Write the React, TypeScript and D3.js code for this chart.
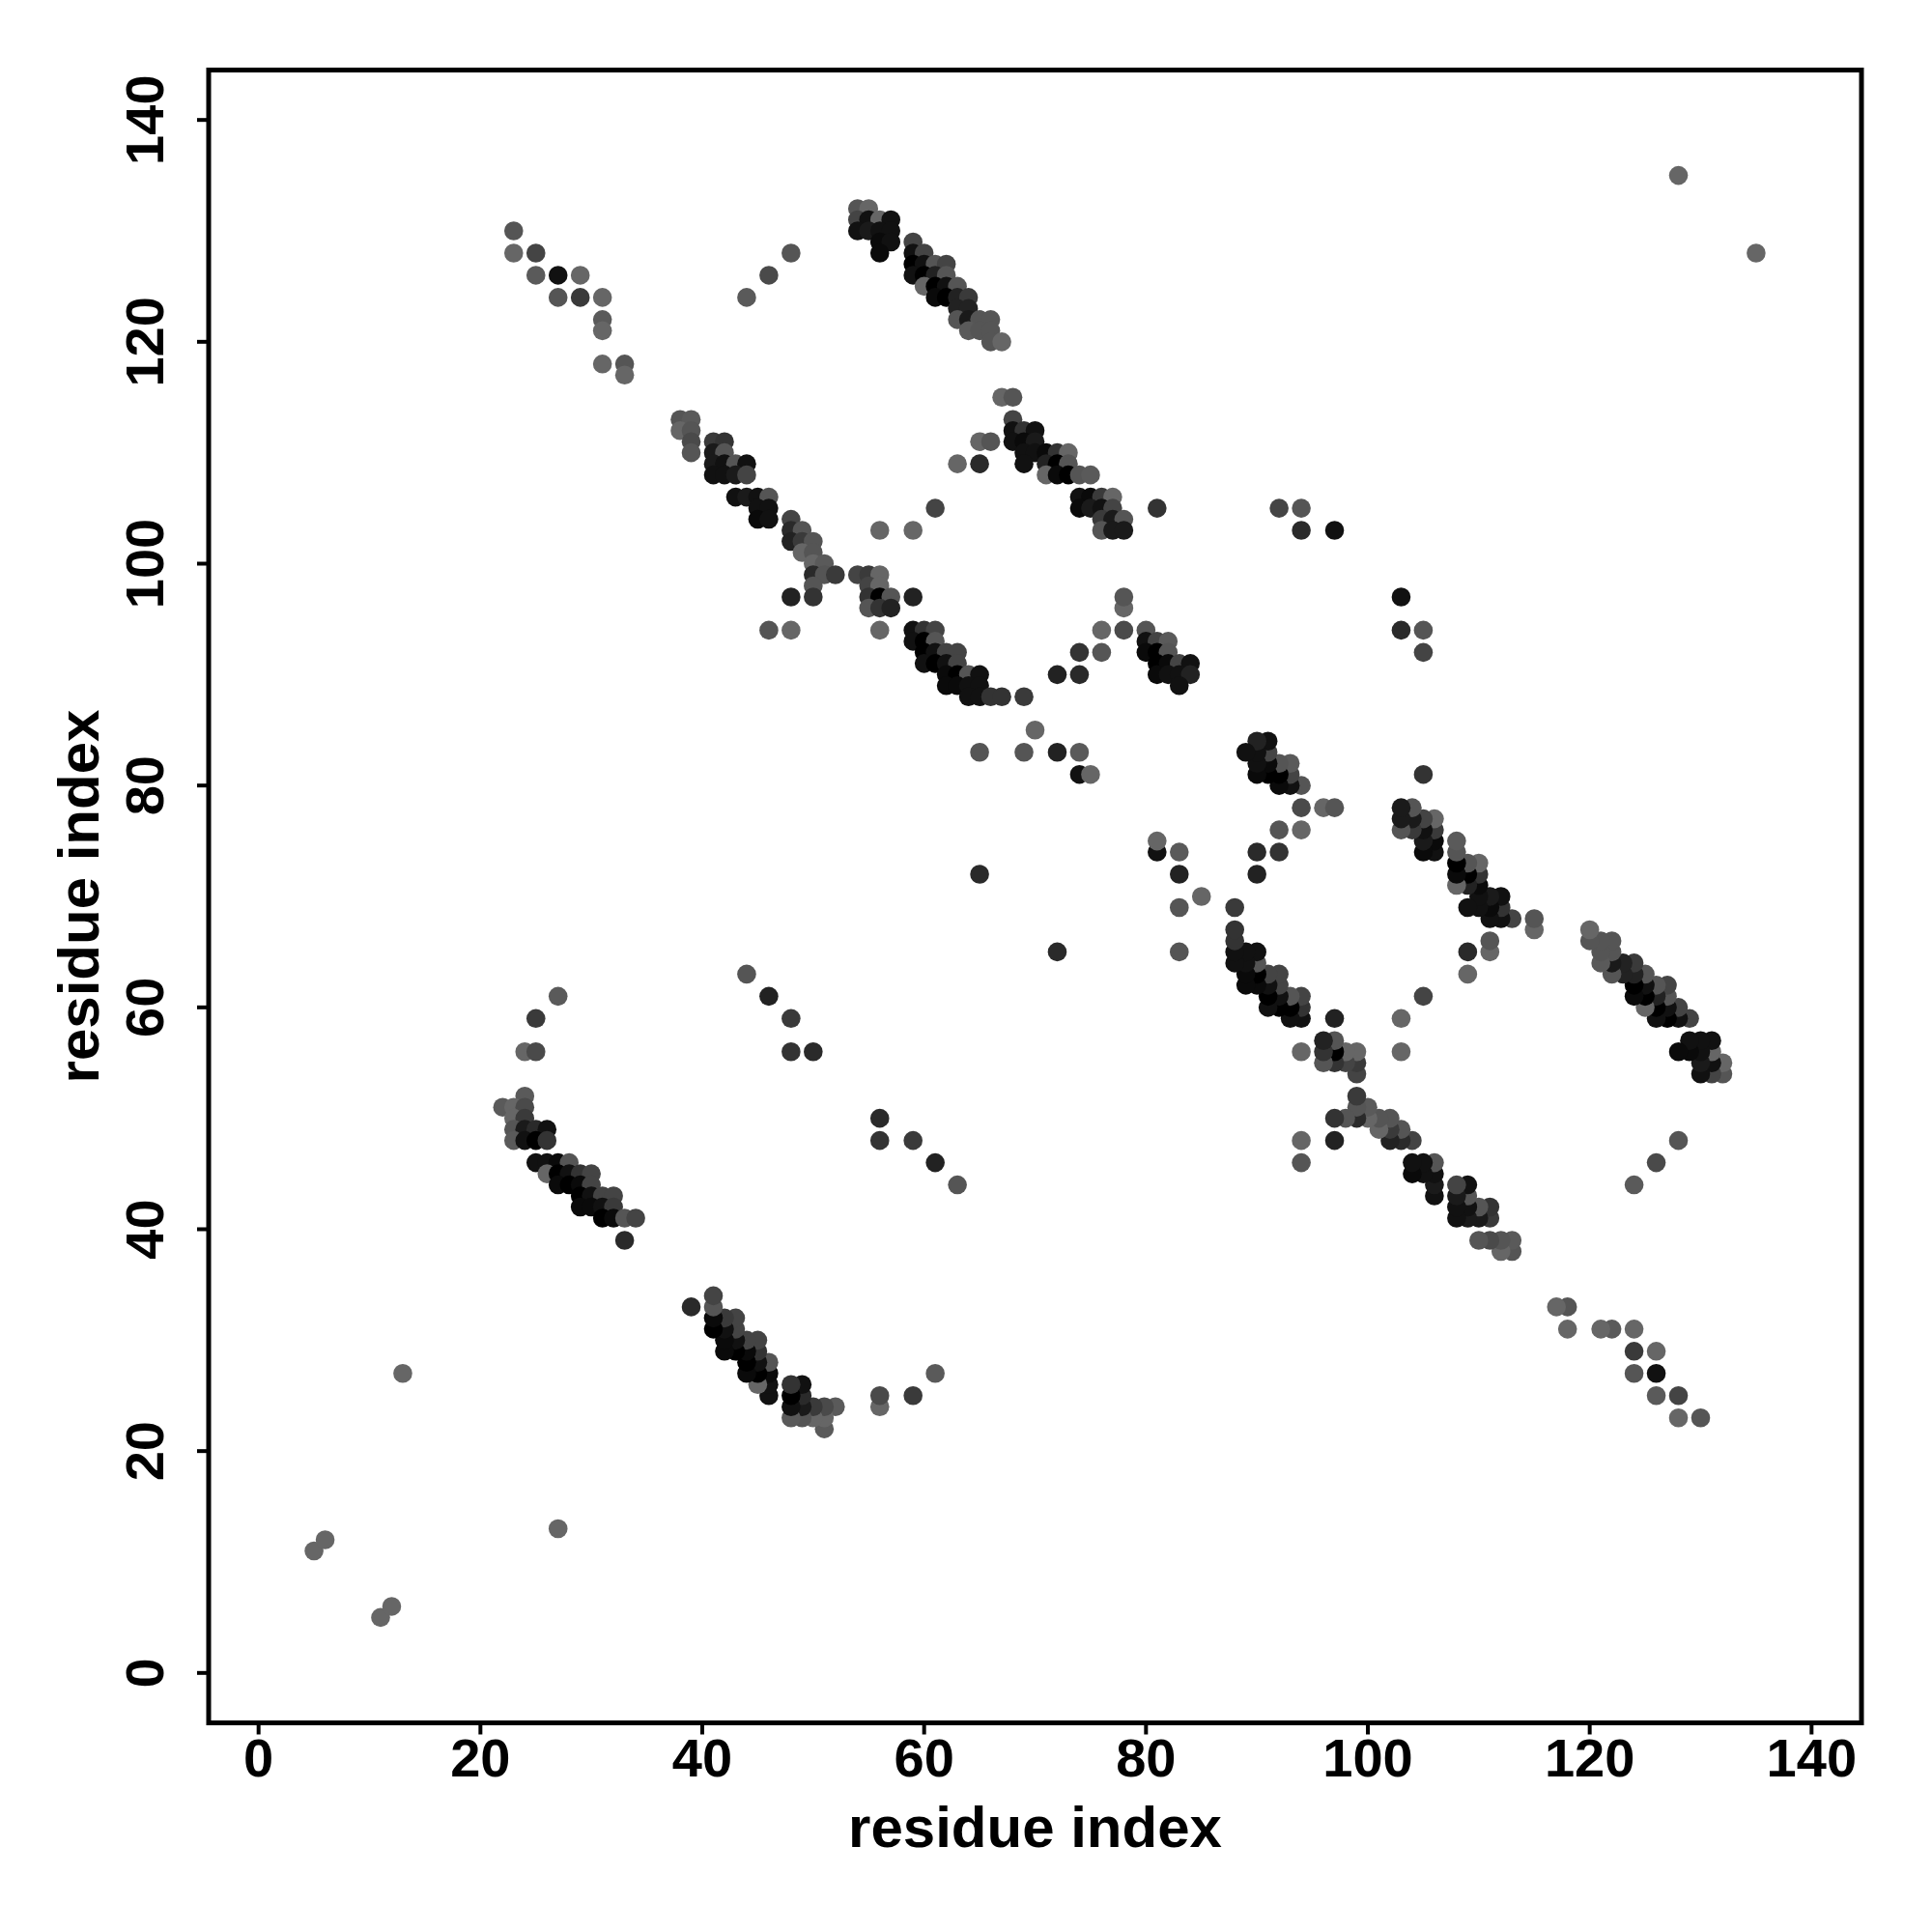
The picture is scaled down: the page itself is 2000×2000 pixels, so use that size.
import React from "react";
import * as d3 from "d3";

// Contact pairs [i, j, grey level 0..102], stored once (j > i); the map is symmetric.
const sparse: number[][] = [
  [5, 11, 102], [6, 12, 102], [13, 27, 102], [128, 135, 102], [65, 72, 42],
];
const sheetA: number[][] = [
  [24, 52, 90], [22, 51, 90], [23, 51, 102], [24, 51, 74],
  [23, 50, 102], [24, 50, 58],
  [23, 49, 85], [24, 49, 26], [25, 49, 42], [26, 49, 17],
  [23, 48, 90], [24, 48, 17], [25, 48, 0], [26, 48, 51],
  [25, 46, 17], [26, 46, 17], [27, 46, 10], [28, 46, 85],
  [26, 45, 102], [27, 45, 0], [28, 45, 17], [29, 45, 51], [30, 45, 68],
  [27, 44, 10], [28, 44, 0], [29, 44, 10], [30, 44, 68],
  [29, 43, 0], [30, 43, 17], [31, 43, 68], [32, 43, 68],
  [29, 42, 10], [30, 42, 10], [31, 42, 17], [32, 42, 58],
  [31, 41, 0], [32, 41, 10], [33, 41, 85], [34, 41, 68],
  [33, 39, 42],
  [27, 61, 90], [25, 59, 58], [24, 56, 102], [25, 56, 74],
  [44, 63, 85], [46, 61, 34], [48, 59, 58], [48, 56, 51], [50, 56, 42],
];
const sheetB: number[][] = [
  [23, 130, 85], [23, 128, 102], [25, 128, 68], [25, 126, 90], [27, 126, 17], [29, 126, 102],
  [27, 124, 85], [29, 124, 58], [31, 124, 102], [31, 122, 90], [31, 121, 102],
  [31, 118, 102], [33, 118, 85], [33, 117, 102],
  [48, 128, 85], [46, 126, 74], [44, 124, 90],
];
const sheetC: number[][] = [
  [54, 132, 85], [55, 132, 102],
  [54, 131, 68], [55, 131, 17], [56, 131, 102], [57, 131, 17],
  [54, 130, 17], [55, 130, 26], [56, 130, 17], [57, 130, 17],
  [56, 129, 10], [57, 129, 17], [56, 128, 10],
  [59, 129, 68],
  [59, 128, 17], [60, 128, 68],
  [59, 127, 0], [60, 127, 17], [61, 127, 85], [62, 127, 68],
  [59, 126, 17], [60, 126, 0], [61, 126, 34], [62, 126, 85],
  [60, 125, 102], [61, 125, 0], [62, 125, 17], [63, 125, 85],
  [61, 124, 10], [62, 124, 0], [63, 124, 34], [64, 124, 58],
  [63, 123, 34], [64, 123, 34],
  [63, 122, 85], [64, 122, 26], [65, 122, 85], [66, 122, 85],
  [64, 121, 90], [65, 121, 85], [66, 121, 85],
  [66, 120, 85], [67, 120, 102],
];
const sheetD: number[][] = [
  [38, 113, 85], [39, 113, 90],
  [38, 112, 102], [39, 112, 85],
  [39, 111, 74], [39, 110, 85],
  [41, 111, 58], [42, 111, 51],
  [41, 110, 26], [42, 110, 85],
  [41, 109, 26], [42, 109, 17], [43, 109, 85], [44, 109, 17],
  [41, 108, 17], [42, 108, 17], [43, 108, 26], [44, 108, 68],
  [43, 106, 17], [44, 106, 26], [45, 106, 17], [46, 106, 85],
  [45, 105, 17], [46, 105, 17],
  [45, 104, 10], [46, 104, 17],
  [48, 104, 68],
  [48, 103, 42], [49, 103, 85],
  [48, 102, 34], [49, 102, 58], [50, 102, 85],
  [49, 101, 102], [50, 101, 85],
  [50, 100, 102], [51, 100, 90],
  [50, 99, 42], [51, 99, 85], [52, 99, 58],
  [50, 98, 85],
  [48, 97, 34], [50, 97, 51],
  [46, 94, 85], [48, 94, 102],
];
const sheetE: number[][] = [
  [54, 99, 68], [55, 99, 58], [56, 99, 102],
  [55, 98, 68], [56, 98, 102],
  [55, 97, 51], [56, 97, 0], [57, 97, 85],
  [59, 97, 34],
  [55, 96, 85], [56, 96, 51], [57, 96, 34],
  [56, 94, 102],
  [59, 94, 17], [60, 94, 51], [61, 94, 68],
  [59, 93, 17], [60, 93, 0], [61, 93, 85],
  [60, 92, 0], [61, 92, 17], [62, 92, 68], [63, 92, 68],
  [60, 91, 17], [61, 91, 0], [62, 91, 17], [63, 91, 68],
  [62, 90, 10], [63, 90, 0], [64, 90, 85], [65, 90, 17],
  [62, 89, 10], [63, 89, 10], [64, 89, 17], [65, 89, 17],
  [64, 88, 17], [65, 88, 17], [66, 88, 51], [67, 88, 51],
  [69, 88, 58], [70, 85, 102],
  [65, 83, 85], [69, 83, 85], [72, 83, 34], [74, 83, 90],
  [74, 81, 17], [75, 81, 102],
  [72, 90, 34], [74, 90, 42], [74, 92, 51], [76, 92, 85],
  [76, 94, 102], [78, 94, 74], [80, 94, 85], [78, 96, 102], [78, 97, 85],
];
const sheetF: number[][] = [
  [67, 115, 102], [68, 115, 85],
  [68, 113, 68],
  [68, 112, 17], [69, 112, 51], [70, 112, 17],
  [68, 111, 17], [69, 111, 10], [70, 111, 26],
  [65, 111, 102], [66, 111, 85],
  [69, 110, 17], [70, 110, 17], [71, 110, 10], [72, 110, 51], [73, 110, 102],
  [63, 109, 102], [65, 109, 42],
  [69, 109, 17], [71, 109, 34], [72, 109, 0], [73, 109, 85],
  [71, 108, 102], [72, 108, 10], [73, 108, 0], [74, 108, 85], [75, 108, 90],
  [74, 106, 17], [75, 106, 10], [76, 106, 58], [77, 106, 102],
  [74, 105, 10], [75, 105, 26], [76, 105, 17], [77, 105, 68],
  [76, 104, 58], [77, 104, 26], [78, 104, 85],
  [76, 103, 85], [77, 103, 26], [78, 103, 26],
  [81, 105, 51], [61, 105, 68], [56, 103, 102], [59, 103, 102],
];
const sheetG: number[][] = [
  [80, 93, 17], [81, 93, 68], [82, 93, 90],
  [80, 92, 10], [81, 92, 0], [82, 92, 85],
  [81, 91, 0], [82, 91, 10], [83, 91, 68], [84, 91, 17],
  [81, 90, 10], [82, 90, 17], [83, 90, 17], [84, 90, 34],
  [83, 89, 17],
  [92, 105, 68], [94, 105, 85], [94, 103, 42], [97, 103, 17],
];

const tickValues = [0, 20, 40, 60, 80, 100, 120, 140];
const axisTitleX = "residue index";
const axisTitleY = "residue index";

export default function App() {
  const left = 216, right = 1927, top = 72.5, bottom = 1783.5;
  const x = d3.scaleLinear().domain([-4.5, 144.5]).range([left, right]);
  const y = d3.scaleLinear().domain([-4.5, 144.5]).range([bottom, top]);

  const pairs = [...sparse, ...sheetA, ...sheetB, ...sheetC, ...sheetD, ...sheetE, ...sheetF, ...sheetG];
  const points: { i: number; j: number; g: number }[] = [];
  pairs.forEach(([i, j, g]) => {
    points.push({ i, j, g });
    points.push({ i: j, j: i, g });
  });

  const font = "'Liberation Sans', Arial, Helvetica, sans-serif";

  return (
    <svg width={2000} height={2000} style={{ position: "absolute", left: 0, top: 0, background: "#fff" }}>
      <rect x={0} y={0} width={2000} height={2000} fill="#fff" />
      <g>
        {points.map((p, k) => (
          <circle key={k} cx={x(p.i)} cy={y(p.j)} r={9.8} fill={d3.rgb(p.g, p.g, p.g).toString()} />
        ))}
      </g>
      <rect x={left} y={top} width={right - left} height={bottom - top} fill="none" stroke="#000" strokeWidth={5} />
      {tickValues.map((t) => (
        <g key={"x" + t}>
          <line x1={x(t)} x2={x(t)} y1={bottom} y2={bottom + 12} stroke="#000" strokeWidth={4} />
          <text x={x(t)} y={1839} textAnchor="middle" fontFamily={font} fontWeight="bold" fontSize={56}>{t}</text>
        </g>
      ))}
      {tickValues.map((t) => (
        <g key={"y" + t}>
          <line x1={left} x2={left - 12} y1={y(t)} y2={y(t)} stroke="#000" strokeWidth={4} />
          <text transform={`translate(169,${y(t)}) rotate(-90)`} textAnchor="middle" fontFamily={font} fontWeight="bold" fontSize={56}>{t}</text>
        </g>
      ))}
      <text x={(left + right) / 2} y={1912} textAnchor="middle" fontFamily={font} fontWeight="bold" fontSize={60}>{axisTitleX}</text>
      <text transform={`translate(102,${(top + bottom) / 2}) rotate(-90)`} textAnchor="middle" fontFamily={font} fontWeight="bold" fontSize={60}>{axisTitleY}</text>
    </svg>
  );
}
